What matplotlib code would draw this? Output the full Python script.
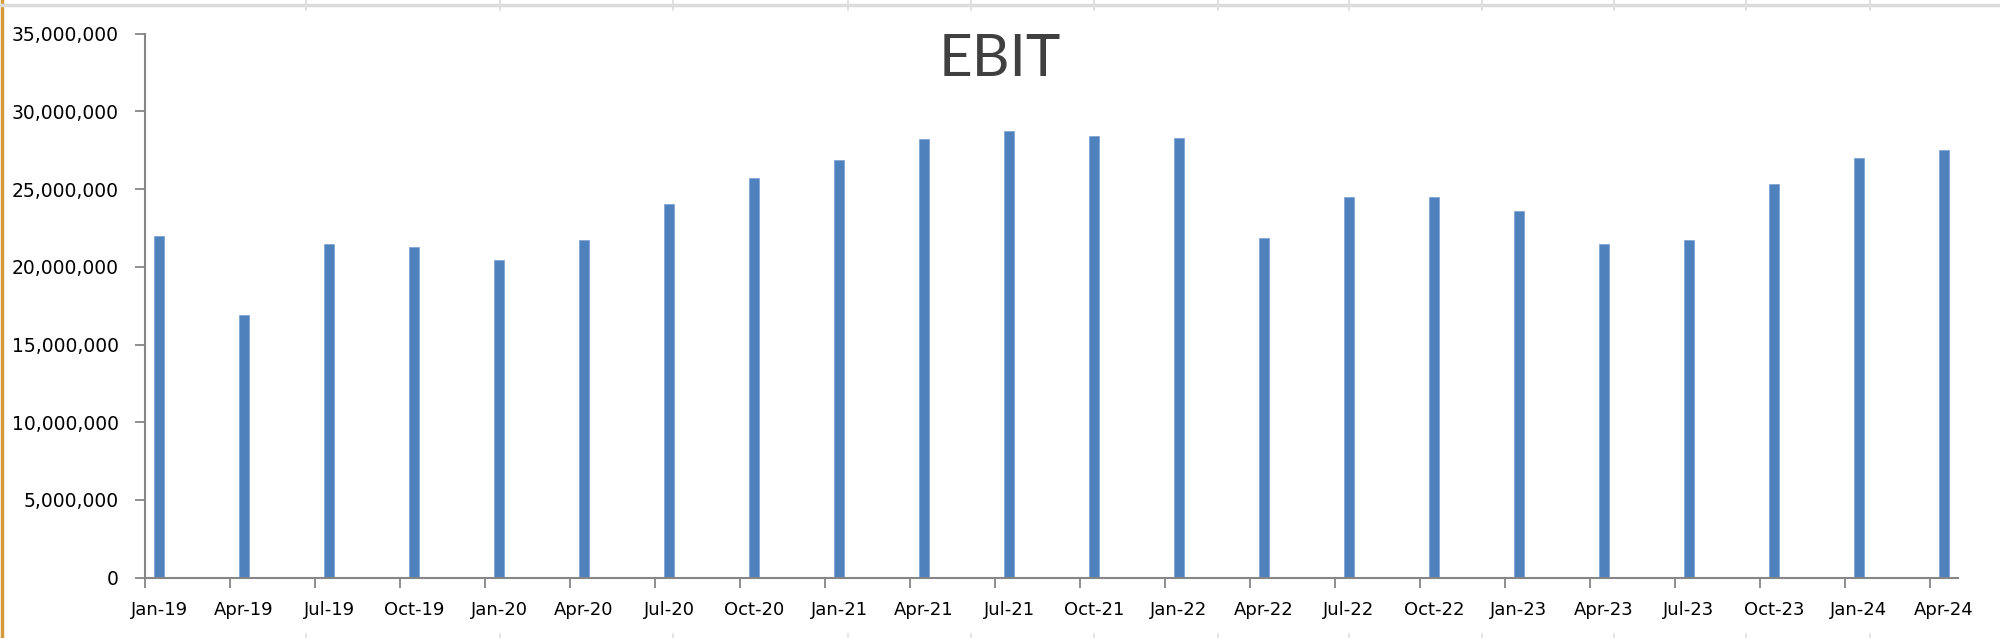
import matplotlib
matplotlib.use("Agg")
import matplotlib.pyplot as plt
from matplotlib.ticker import FuncFormatter, FixedLocator
from matplotlib.lines import Line2D
import pandas as pd

labels = ["Jan-19", "Apr-19", "Jul-19", "Oct-19", "Jan-20", "Apr-20", "Jul-20", "Oct-20",
          "Jan-21", "Apr-21", "Jul-21", "Oct-21", "Jan-22", "Apr-22", "Jul-22", "Oct-22",
          "Jan-23", "Apr-23", "Jul-23", "Oct-23", "Jan-24", "Apr-24"]
ebit = [21.95e6, 16.9e6, 21.47e6, 21.25e6, 20.46e6, 21.70e6, 24.04e6, 25.73e6,
        26.85e6, 28.20e6, 28.75e6, 28.41e6, 28.30e6, 21.83e6, 24.51e6, 24.51e6,
        23.61e6, 21.48e6, 21.70e6, 25.30e6, 26.98e6, 27.49e6]
title = "EBIT"
y_ticks = [0, 5e6, 10e6, 15e6, 20e6, 25e6, 30e6, 35e6]

dates = pd.to_datetime(labels, format="%b-%y")
start = dates[0]
month_idx = [(d.year - start.year) * 12 + (d.month - start.month) for d in dates]
n_months = month_idx[-1] + 1

fig = plt.figure(figsize=(20, 6.38), dpi=100)
ax = fig.add_axes([0.0725, 0.0945, 0.9065, 0.8528])

centers = [m + 0.5 for m in month_idx]
ax.bar(centers, ebit, width=0.35, color="#4F81BD", edgecolor="#7FA6D6", linewidth=0.6)

ax.set_xlim(0, n_months)
ax.set_ylim(0, 35e6)
ax.set_yticks(y_ticks)
ax.yaxis.set_major_formatter(FuncFormatter(lambda v, p: f"{int(v):,}"))

ax.xaxis.set_major_locator(FixedLocator(month_idx))
ax.xaxis.set_minor_locator(FixedLocator(centers))
ax.set_xticklabels([], minor=False)
ax.set_xticklabels(labels, minor=True)
ax.tick_params(axis="x", which="major", length=7, width=1.3, color="#868686")
ax.tick_params(axis="x", which="minor", length=0, pad=17, labelsize=13)
ax.tick_params(axis="y", length=7, width=1.3, color="#868686", labelsize=13.5, pad=12)

for s in ["top", "right"]:
    ax.spines[s].set_visible(False)
for s in ["left", "bottom"]:
    ax.spines[s].set_color("#868686")
    ax.spines[s].set_linewidth(1.5)

fig.text(0.5, 0.907, title, ha="center", va="center", fontsize=42,
         family=["Lato", "DejaVu Sans"], color="#404040")

# spreadsheet decorations
fig.add_artist(Line2D([0.001, 0.001], [0, 1], color="#D59B3A", linewidth=2.5,
                      transform=fig.transFigure))
fig.add_artist(Line2D([0, 1], [1 - 5/638, 1 - 5/638], color="#DCDCDC", linewidth=2.5,
                      transform=fig.transFigure))
for xp in [306, 500, 673, 848, 971, 1094, 1218, 1349, 1482, 1614, 1746, 1870]:
    fig.add_artist(Line2D([xp/2000, xp/2000], [1, 1 - 10/638], color="#DCDCDC",
                          linewidth=1.2, transform=fig.transFigure))
    fig.add_artist(Line2D([xp/2000, xp/2000], [0, 4/638], color="#E0E0E0",
                          linewidth=1.2, transform=fig.transFigure))

fig.savefig("out.png", dpi=100)
